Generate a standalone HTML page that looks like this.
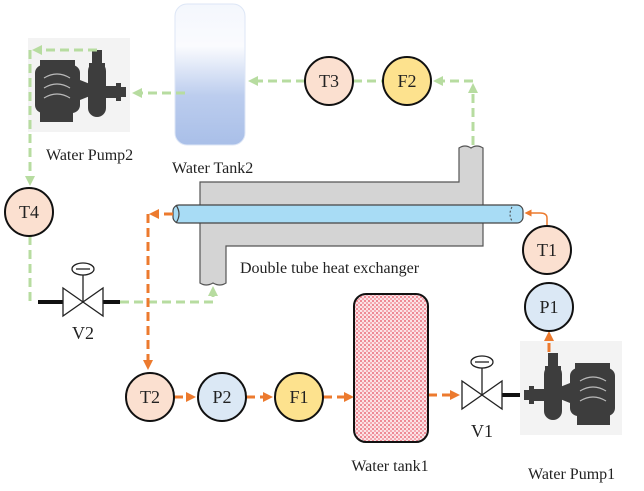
<!DOCTYPE html>
<html><head><meta charset="utf-8"><style>
html,body{margin:0;padding:0;background:#fff;}
svg{display:block;}
text{font-family:"Liberation Serif",serif;fill:#222;}
</style></head><body>
<svg width="644" height="491" viewBox="0 0 644 491" xmlns="http://www.w3.org/2000/svg">
<defs>
<linearGradient id="tg" x1="0" y1="0" x2="0" y2="1">
<stop offset="0" stop-color="#f4f7fd"/><stop offset="0.3" stop-color="#fafbfe"/><stop offset="0.65" stop-color="#bccdee"/><stop offset="1" stop-color="#a9bfe8"/>
</linearGradient>
<pattern id="chk" width="4" height="4" patternUnits="userSpaceOnUse">
<rect width="4" height="4" fill="#fbe3e6"/><rect width="2" height="2" fill="#ee8a95"/><rect x="2" y="2" width="2" height="2" fill="#f3a9b1"/>
</pattern>
<marker id="ag" markerWidth="10" markerHeight="10" refX="5" refY="5" orient="auto" markerUnits="userSpaceOnUse" viewBox="0 0 10 10"><path d="M0,0L10,5L0,10z" fill="#b7dca0"/></marker>
<marker id="ao" markerWidth="10" markerHeight="10" refX="5" refY="5" orient="auto" markerUnits="userSpaceOnUse" viewBox="0 0 10 10"><path d="M0,0L10,5L0,10z" fill="#ec7a2e"/></marker>
<marker id="ao2" markerWidth="7" markerHeight="7" refX="3.5" refY="3.5" orient="auto" markerUnits="userSpaceOnUse" viewBox="0 0 7 7"><path d="M0,0L7,3.5L0,7z" fill="#ec7a2e"/></marker>
<g id="pump">
<rect x="28" y="38" width="102" height="94" fill="#f3f3f3"/>
<rect x="35" y="65" width="45" height="48" rx="8" fill="#3d3d3d"/>
<rect x="40" y="60" width="35" height="6" fill="#3d3d3d"/>
<rect x="40" y="112" width="33" height="10" fill="#3d3d3d"/>
<path d="M44,78 Q57,70 70,78 M44,88 Q57,80 70,88 M44,98 Q57,90 70,98" stroke="#bbb" stroke-width="1.2" fill="none"/>
<path d="M80,80 L90,84 L90,96 L80,100z" fill="#3d3d3d"/>
<rect x="88" y="62" width="18" height="55" rx="9" fill="#3d3d3d"/>
<rect x="92" y="50" width="10" height="20" fill="#3d3d3d"/>
<rect x="89" y="63" width="16" height="4" fill="#3d3d3d"/>
<rect x="104" y="86" width="14" height="12" fill="#3d3d3d"/>
<rect x="116" y="83" width="5" height="18" fill="#3d3d3d"/>
<rect x="121" y="87" width="5" height="10" fill="#3d3d3d"/>
</g>
<g id="valve" stroke="#222" stroke-width="1.3" fill="#fff">
<path d="M-20,-14 L20,14 L20,-14 L-20,14 Z"/>
<line x1="0" y1="0" x2="0" y2="-27"/>
<ellipse cx="0" cy="-33" rx="11" ry="6"/>
<line x1="-7" y1="-33" x2="7" y2="-33"/>
</g>
</defs>

<!-- Water Tank2 -->
<rect x="175" y="4" width="70" height="141" rx="12" fill="url(#tg)" stroke="#dde6f6" stroke-width="1"/>
<text x="172" y="173" font-size="16">Water Tank2</text>

<use href="#pump"/>
<text x="46" y="160" font-size="16">Water Pump2</text>

<use href="#pump" transform="translate(650,303) scale(-1,1)"/>
<text x="528" y="479" font-size="16">Water Pump1</text>

<!-- heat exchanger shell -->
<path d="M200,182 L459,182 L459,148 Q465,144 471,148 Q477,144 483,148 L483,246 L226,246 L226,283 Q220,287 213,283 Q206,287 200,283 Z" fill="#d4d4d4" stroke="#555" stroke-width="1.2"/>
<rect x="173" y="205" width="350" height="18" rx="6" fill="#a8dcf5" stroke="#444" stroke-width="1.2"/>
<path d="M176,205 Q182,214 176,223" stroke="#444" fill="none" stroke-width="1.2"/>
<path d="M512,207 Q508,214 512,221" stroke="#444" fill="none" stroke-width="1" stroke-dasharray="2,2"/>
<text x="240" y="273" font-size="16">Double tube heat exchanger</text>

<!-- green loop -->
<g stroke="#b7dca0" stroke-width="3" stroke-dasharray="9,5" fill="none">
<line x1="473" y1="145" x2="473" y2="88" marker-end="url(#ag)"/>
<line x1="473" y1="81" x2="438" y2="81" marker-end="url(#ag)"/>
<line x1="305" y1="81" x2="253" y2="81" marker-end="url(#ag)"/>
<line x1="353" y1="81" x2="383" y2="81"/>
<line x1="185" y1="93" x2="137" y2="93" marker-end="url(#ag)"/>
<line x1="97" y1="50" x2="37" y2="50" marker-end="url(#ag)"/>
<line x1="30" y1="50" x2="30" y2="181" marker-end="url(#ag)"/>
<polyline points="30,236 30,302"/>
<polyline points="120,302 213,302 213,291" marker-end="url(#ag)"/>
</g>

<line x1="38" y1="302" x2="63" y2="302" stroke="#111" stroke-width="4"/>
<line x1="103" y1="302" x2="120" y2="302" stroke="#111" stroke-width="4"/>
<use href="#valve" transform="translate(83,302)"/>
<text x="83" y="339" font-size="18" text-anchor="middle">V2</text>

<!-- orange loop -->
<g stroke="#ec7a2e" stroke-width="3" stroke-dasharray="9,5" fill="none">
<line x1="173" y1="214" x2="154" y2="214" marker-end="url(#ao)"/>
<line x1="148" y1="214" x2="148" y2="365" marker-end="url(#ao)"/>
<line x1="174" y1="397" x2="191" y2="397" marker-end="url(#ao)"/>
<line x1="246" y1="397" x2="268" y2="397" marker-end="url(#ao)"/>
<line x1="323" y1="397" x2="349" y2="397" marker-end="url(#ao)"/>
<line x1="428" y1="395" x2="455" y2="395" marker-end="url(#ao)"/>
<line x1="549" y1="352" x2="549" y2="336" marker-end="url(#ao)"/>
</g>
<path d="M547,226 L547,218 Q547,213 540,213 L528,213" stroke="#ec7a2e" stroke-width="1.5" fill="none" marker-end="url(#ao2)"/>

<rect x="354" y="294" width="74" height="148" rx="12" fill="url(#chk)" stroke="#111" stroke-width="2"/>
<text x="390" y="471" font-size="16" text-anchor="middle">Water tank1</text>

<line x1="502" y1="395" x2="520" y2="395" stroke="#111" stroke-width="4"/>
<use href="#valve" transform="translate(482,395)"/>
<text x="482" y="437" font-size="18" text-anchor="middle">V1</text>

<g stroke="#111" stroke-width="2">
<circle cx="329" cy="81" r="24" fill="#fbe0d0"/>
<circle cx="407" cy="81" r="24" fill="#fde28e"/>
<circle cx="29" cy="212" r="24" fill="#fbe0d0"/>
<circle cx="547" cy="250" r="24" fill="#fbe0d0"/>
<circle cx="549" cy="307" r="24" fill="#dbe8f5"/>
<circle cx="150" cy="397" r="24" fill="#fbe0d0"/>
<circle cx="222" cy="397" r="24" fill="#dbe8f5"/>
<circle cx="299" cy="397" r="24" fill="#fde28e"/>
</g>
<g font-size="18" text-anchor="middle">
<text x="329" y="87">T3</text>
<text x="407" y="87">F2</text>
<text x="29" y="218">T4</text>
<text x="547" y="256">T1</text>
<text x="549" y="313">P1</text>
<text x="150" y="403">T2</text>
<text x="222" y="403">P2</text>
<text x="299" y="403">F1</text>
</g>
</svg>
</body></html>
